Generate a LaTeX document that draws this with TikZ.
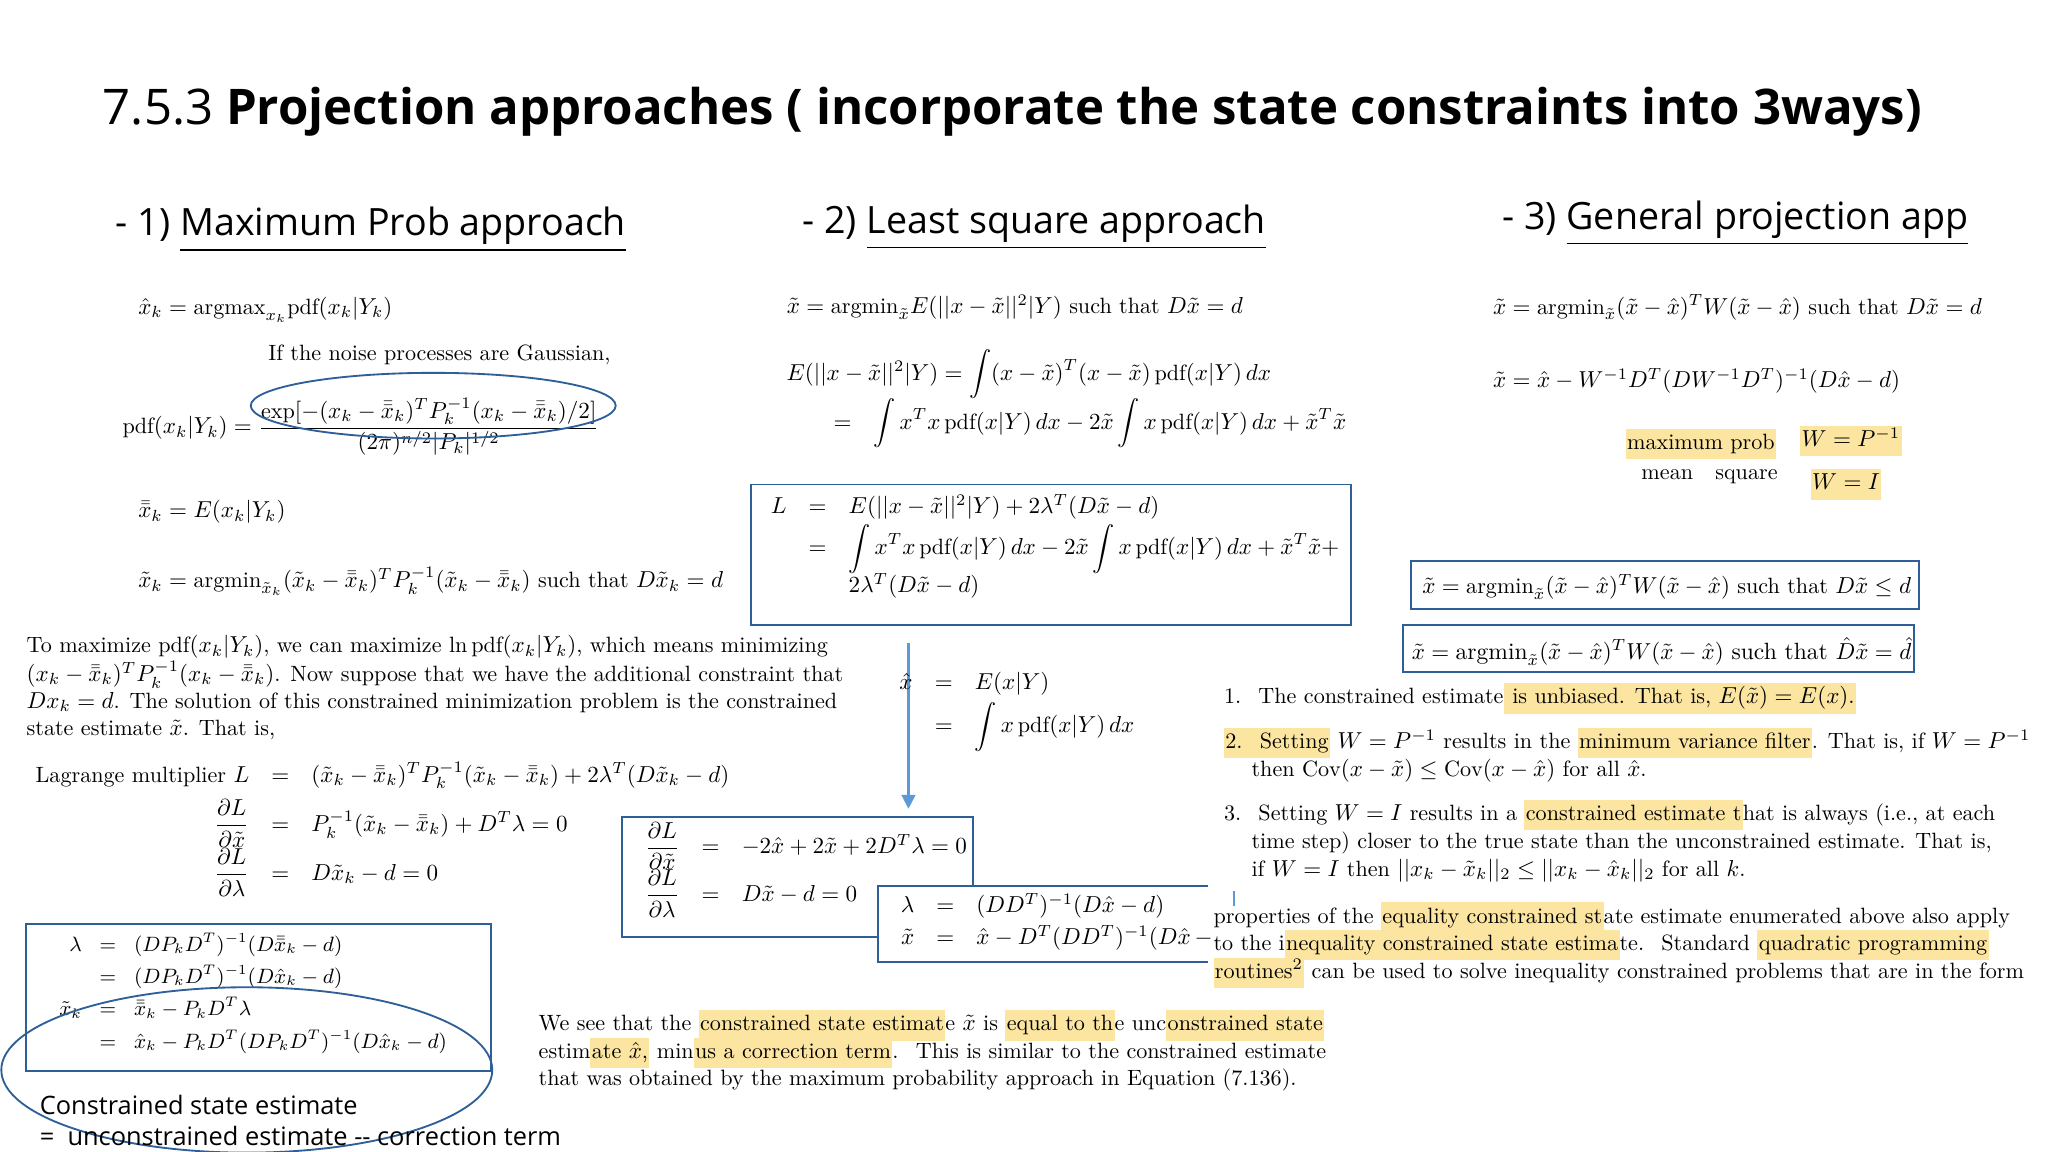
\documentclass[tikz,border=0pt]{standalone}
\usepackage{amsmath,amssymb}
\usepackage{fontspec}
\newfontfamily\sansf{Open Sans}
\usetikzlibrary{arrows.meta}
\definecolor{hlc}{HTML}{FBE5A0}
\definecolor{boxc}{HTML}{2F5F98}
\definecolor{arrc}{HTML}{5B9BD5}
\newcommand\hl[1]{{\setlength\fboxsep{0.6pt}\colorbox{hlc}{\strut #1}}}
\tikzset{
  txt/.style={inner sep=0pt, anchor=west, font=\fontsize{9.6}{12}\selectfont},
  frame/.style={draw=boxc, line width=0.8pt},
  ring/.style={draw=boxc, line width=0.8pt},
  head/.style={inner sep=0pt, anchor=west, font=\sansf\fontsize{16.3}{20}\selectfont},
}
\begin{document}
\begin{tikzpicture}[x=0.02cm,y=-0.02cm]
\useasboundingbox[fill=white] (0,0) rectangle (1560,877.5);
% title
\node[inner sep=0pt,anchor=west,font=\sansf\fontsize{21.3}{26}\selectfont] (title) at (78,85) {7.5.3 \textbf{Projection approaches ( incorporate the state constraints into 3ways)}};
\node[head] (h1) at (88,175) {- 1) \underline{Maximum Prob approach}};
\node[head] (h2) at (611,173) {- 2) \underline{Least square approach}};
\node[head] (h3) at (1144,170) {- 3) \underline{General projection app}};
% left column
\node[txt] (e1) at (105,236) {$\hat x_k = \mathrm{argmax}_{x_k}\mathrm{pdf}(x_k|Y_k)$};
\node[txt] (g1) at (204,270) {If the noise processes are Gaussian,};
\node[txt] (e2) at (93,325) {$\mathrm{pdf}(x_k|Y_k)=\dfrac{\exp[-(x_k-\bar{\bar x}_k)^TP_k^{-1}(x_k-\bar{\bar x}_k)/2]}{(2\pi)^{n/2}|P_k|^{1/2}}$};
\draw[ring] (330,309) ellipse [x radius=139, y radius=25];
\node[txt] (e3) at (105,390) {$\bar{\bar x}_k = E(x_k|Y_k)$};
\node[txt] (e4) at (105,443) {$\tilde x_k = \mathrm{argmin}_{\tilde x_k}(\tilde x_k-\bar{\bar x}_k)^TP_k^{-1}(\tilde x_k-\bar{\bar x}_k)$ such that $D\tilde x_k=d$};
\node[txt] (p1) at (20,493) {To maximize $\mathrm{pdf}(x_k|Y_k)$, we can maximize $\ln\mathrm{pdf}(x_k|Y_k)$, which means minimizing};
\node[txt] (p2) at (20,514) {$(x_k-\bar{\bar x}_k)^TP_k^{-1}(x_k-\bar{\bar x}_k)$. Now suppose that we have the additional constraint that};
\node[txt] (p3) at (20,535) {$Dx_k=d$. The solution of this constrained minimization problem is the constrained};
\node[txt] (p4) at (20,556) {state estimate $\tilde x$. That is,};
\node[txt,anchor=north west] (lag) at (18,580) {$\begin{array}{r@{\quad}c@{\quad}l}
\text{Lagrange multiplier } L & = & (\tilde x_k-\bar{\bar x}_k)^TP_k^{-1}(\tilde x_k-\bar{\bar x}_k)+2\lambda^T(D\tilde x_k-d)\\[4pt]
\dfrac{\partial L}{\partial\tilde x} & = & P_k^{-1}(\tilde x_k-\bar{\bar x}_k)+D^T\lambda=0\\[4pt]
\dfrac{\partial L}{\partial\lambda} & = & D\tilde x_k-d=0
\end{array}$};
\draw[frame] (20,704) rectangle (374,816);
\node[txt,anchor=north west,font=\fontsize{9.2}{11.5}\selectfont] (lam1) at (36,710) {$\begin{array}{r@{\;\;\;}c@{\;\;\;}l}
\lambda & = & (DP_kD^T)^{-1}(D\bar{\bar x}_k-d)\\[2.5pt]
 & = & (DP_kD^T)^{-1}(D\hat x_k-d)\\[2.5pt]
\tilde x_k & = & \bar{\bar x}_k-P_kD^T\lambda\\[2.5pt]
 & = & \hat x_k-P_kD^T(DP_kD^T)^{-1}(D\hat x_k-d)
\end{array}$};
\draw[ring] (188,815) ellipse [x radius=187, y radius=63];
\node[inner sep=0pt,anchor=west,font=\sansf\fontsize{11}{14}\selectfont] (c1) at (30,842) {Constrained state estimate};
\node[inner sep=0pt,anchor=west,font=\sansf\fontsize{11}{14}\selectfont] (c2) at (30,865) {=\ \ unconstrained estimate -- correction term};
% middle column
\node[txt] (m1) at (599,234) {$\tilde x = \mathrm{argmin}_{\tilde x}E(||x-\tilde x||^2|Y)$ such that $D\tilde x=d$};
\node[txt,anchor=north west] (m2) at (590,266) {$\begin{array}{r@{\quad}c@{\quad}l}
\multicolumn{3}{l}{E(||x-\tilde x||^2|Y)=\displaystyle\int(x-\tilde x)^T(x-\tilde x)\,\mathrm{pdf}(x|Y)\,dx}\\[2pt]
\hphantom{M}& = & \displaystyle\int x^Tx\,\mathrm{pdf}(x|Y)\,dx-2\tilde x\int x\,\mathrm{pdf}(x|Y)\,dx+\tilde x^T\tilde x
\end{array}$};
\draw[frame] (572,369) rectangle (1029,476);
\node[txt,anchor=north west] (m3) at (578,376) {$\begin{array}{r@{\quad}c@{\quad}l}
L & = & E(||x-\tilde x||^2|Y)+2\lambda^T(D\tilde x-d)\\[1pt]
 & = & \displaystyle\int x^Tx\,\mathrm{pdf}(x|Y)\,dx-2\tilde x\int x\,\mathrm{pdf}(x|Y)\,dx+\tilde x^T\tilde x+\\[3pt]
 & & 2\lambda^T(D\tilde x-d)
\end{array}$};
\coordinate (a0) at (692,490);
\coordinate (a1) at (692,616);
\draw[arrc, line width=0.9pt, -{Triangle[length=6pt,width=6pt]}] (a0) -- (a1);
\node[txt,anchor=north west] (m4) at (676,510) {$\begin{array}{r@{\quad}c@{\quad}l}
\hat x & = & E(x|Y)\\[2pt]
 & = & \displaystyle\int x\,\mathrm{pdf}(x|Y)\,dx
\end{array}$};
\draw[frame] (474,622) rectangle (741,714);
\node[txt,anchor=north west] (m5) at (482,626) {$\begin{array}{r@{\quad}c@{\quad}l}
\dfrac{\partial L}{\partial\tilde x} & = & -2\hat x+2\tilde x+2D^T\lambda=0\\[3pt]
\dfrac{\partial L}{\partial\lambda} & = & D\tilde x-d=0
\end{array}$};
\fill[white] (669,675) rectangle (920,733);
\draw[frame] (920,675) -- (669,675) -- (669,733) -- (920,733);
\node[txt,anchor=north west] (m6) at (677,680) {$\begin{array}{r@{\quad}c@{\quad}l}
\lambda & = & (DD^T)^{-1}(D\hat x-d)\\[2pt]
\tilde x & = & \hat x-D^T(DD^T)^{-1}(D\hat x\,-
\end{array}$};
\draw[arrc, line width=0.6pt] (940,679) -- (940,690);
\node[txt] (b1) at (410,781) {We see that the \hl{constrained state estimat}e $\tilde x$ is \hl{equal to th}e unc\hl{onstrained state}};
\node[txt] (b2) at (410,802) {estim\hl{ate $\hat x$,} min\hl{us a correction term}. \ This is similar to the constrained estimate};
\node[txt] (b3) at (410,823) {that was obtained by the maximum probability approach in Equation (7.136).};
% right column
\node[txt] (r1) at (1137,234) {$\tilde x = \mathrm{argmin}_{\tilde x}(\tilde x-\hat x)^TW(\tilde x-\hat x)$ such that $D\tilde x=d$};
\node[txt] (r2) at (1137,290) {$\tilde x = \hat x-W^{-1}D^T(DW^{-1}D^T)^{-1}(D\hat x-d)$};
\node[txt] (r3) at (1238,338) {\hl{maximum prob}};
\node[txt] (r4) at (1371,336) {\hl{$W=P^{-1}$}};
\node[txt] (r5) at (1250,363) {mean \ \ square};
\node[txt] (r6) at (1379,369) {\hl{$W=I$}};
\draw[frame] (1075,427) rectangle (1462,464);
\node[txt] (r7) at (1083,447) {$\tilde x = \mathrm{argmin}_{\tilde x}(\tilde x-\hat x)^TW(\tilde x-\hat x)$ such that $D\tilde x\le d$};
\draw[frame] (1069,476) rectangle (1458,512);
\node[txt,font=\fontsize{10.2}{13}\selectfont] (r8) at (1075,496) {$\tilde x = \mathrm{argmin}_{\tilde x}(\tilde x-\hat x)^TW(\tilde x-\hat x)$ such that $\hat D\tilde x=\hat d$};
\node[txt] (l1) at (932,532) {1. \ The constrained estimate\hl{ is unbiased. That is, $E(\tilde x)=E(x)$.}};
\node[txt] (l2) at (932,566) {\hl{2. \ Setting} $W=P^{-1}$ results in the \hl{minimum variance filter}. That is, if $W=P^{-1}$};
\node[txt] (l2b) at (953,587) {then $\mathrm{Cov}(x-\tilde x)\le\mathrm{Cov}(x-\hat x)$ for all $\hat x$.};
\node[txt] (l3) at (932,621) {3. \ Setting $W=I$ results in a \hl{constrained estimate t}hat is always (i.e., at each};
\node[txt] (l3b) at (953,642) {time step) closer to the true state than the unconstrained estimate. That is,};
\node[txt] (l3c) at (953,663) {if $W=I$ then $||x_k-\tilde x_k||_2\le||x_k-\hat x_k||_2$ for all $k$.};
\node[txt] (q1) at (924,699) {properties of the \hl{equality constrained st}ate estimate enumerated above also apply};
\node[txt] (q2) at (924,720) {to the i\hl{nequality constrained state estima}te. \ Standard \hl{quadratic programming}};
\node[txt] (q3) at (924,741) {\hl{routines$^2$} can be used to solve inequality constrained problems that are in the form};
\end{tikzpicture}
\end{document}
